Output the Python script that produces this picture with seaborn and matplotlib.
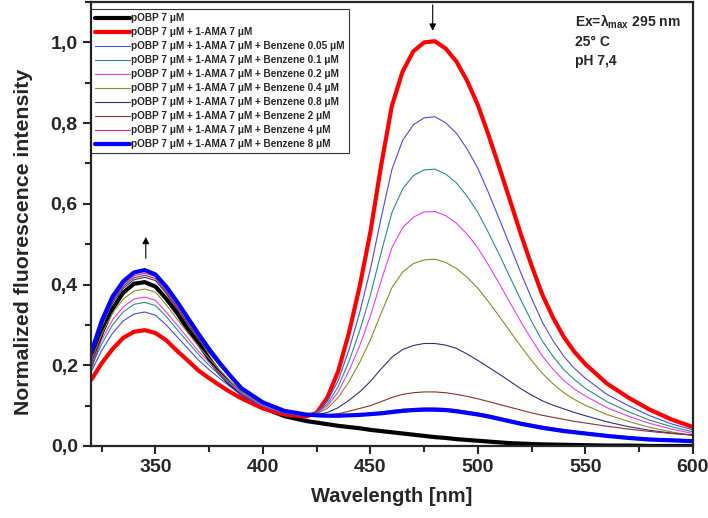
import matplotlib
matplotlib.use('Agg')
import matplotlib.pyplot as plt
from matplotlib.ticker import MultipleLocator, FuncFormatter
import seaborn as sns
import pandas as pd

# wavelength grid (nm)
wl = [320, 325, 330, 335, 340, 345, 350, 355, 360, 365, 370, 375, 380, 385, 390, 400, 410, 420,
      425, 430, 435, 440, 445, 450, 455, 460, 465, 470, 475, 480, 485, 490, 495, 500,
      505, 510, 515, 520, 525, 530, 535, 540, 545, 550, 560, 570, 580, 590, 600]

pobp = [0.200, 0.280, 0.340, 0.380, 0.402, 0.406, 0.395, 0.365, 0.330, 0.290, 0.255, 0.216, 0.180, 0.153, 0.130, 0.095, 0.074, 0.062,
        0.058, 0.054, 0.050, 0.047, 0.044, 0.040, 0.037, 0.034, 0.031, 0.028, 0.025, 0.022, 0.020, 0.017, 0.015, 0.013,
        0.011, 0.009, 0.007, 0.006, 0.005, 0.004, 0.0035, 0.003, 0.0025, 0.002, 0.001, 0.001, 0.000, 0.000, 0.000]
ama = [0.163, 0.205, 0.240, 0.268, 0.283, 0.287, 0.280, 0.262, 0.236, 0.212, 0.187, 0.168, 0.150, 0.133, 0.118, 0.093, 0.078, 0.073,
       0.082, 0.120, 0.185, 0.280, 0.395, 0.530, 0.695, 0.843, 0.928, 0.978, 1.000, 1.003, 0.985, 0.953, 0.905, 0.845,
       0.770, 0.690, 0.608, 0.525, 0.447, 0.375, 0.318, 0.270, 0.233, 0.203, 0.155, 0.120, 0.090, 0.066, 0.047]
bz_005 = [0.183, 0.237, 0.279, 0.310, 0.327, 0.332, 0.324, 0.300, 0.271, 0.242, 0.213, 0.189, 0.167, 0.146, 0.126, 0.098, 0.081, 0.074,
          0.083, 0.111, 0.162, 0.238, 0.330, 0.438, 0.565, 0.685, 0.757, 0.796, 0.813, 0.816, 0.801, 0.775, 0.736, 0.688,
          0.627, 0.562, 0.496, 0.429, 0.366, 0.307, 0.261, 0.222, 0.192, 0.168, 0.128, 0.100, 0.075, 0.055, 0.040]
bz_01 = [0.194, 0.253, 0.300, 0.332, 0.351, 0.356, 0.348, 0.321, 0.289, 0.258, 0.227, 0.200, 0.175, 0.152, 0.130, 0.100, 0.082, 0.075,
         0.082, 0.104, 0.147, 0.209, 0.285, 0.374, 0.479, 0.578, 0.637, 0.670, 0.684, 0.686, 0.674, 0.652, 0.619, 0.579,
         0.528, 0.474, 0.418, 0.362, 0.309, 0.260, 0.222, 0.189, 0.164, 0.143, 0.110, 0.085, 0.064, 0.048, 0.035]
bz_02 = [0.200, 0.263, 0.312, 0.345, 0.364, 0.369, 0.361, 0.332, 0.300, 0.268, 0.235, 0.207, 0.180, 0.155, 0.132, 0.101, 0.083, 0.076,
         0.081, 0.099, 0.134, 0.186, 0.248, 0.322, 0.409, 0.491, 0.541, 0.567, 0.580, 0.581, 0.571, 0.552, 0.525, 0.491,
         0.448, 0.402, 0.355, 0.308, 0.264, 0.223, 0.190, 0.162, 0.141, 0.124, 0.095, 0.074, 0.056, 0.042, 0.031]
bz_04 = [0.209, 0.277, 0.329, 0.364, 0.384, 0.389, 0.381, 0.350, 0.315, 0.281, 0.247, 0.217, 0.188, 0.160, 0.135, 0.103, 0.084, 0.076,
         0.080, 0.093, 0.120, 0.159, 0.207, 0.263, 0.329, 0.392, 0.431, 0.452, 0.461, 0.463, 0.455, 0.440, 0.418, 0.391,
         0.357, 0.321, 0.284, 0.247, 0.212, 0.180, 0.154, 0.132, 0.115, 0.101, 0.078, 0.061, 0.046, 0.035, 0.026]
bz_08 = [0.222, 0.297, 0.354, 0.391, 0.412, 0.418, 0.410, 0.378, 0.340, 0.302, 0.264, 0.230, 0.198, 0.168, 0.140, 0.106, 0.086, 0.077,
         0.078, 0.083, 0.095, 0.113, 0.134, 0.160, 0.191, 0.220, 0.239, 0.249, 0.254, 0.254, 0.250, 0.242, 0.228, 0.212,
         0.195, 0.178, 0.160, 0.142, 0.126, 0.112, 0.101, 0.092, 0.083, 0.075, 0.060, 0.048, 0.039, 0.032, 0.027]
bz_2 = [0.224, 0.301, 0.359, 0.396, 0.417, 0.423, 0.415, 0.382, 0.344, 0.305, 0.267, 0.233, 0.200, 0.170, 0.141, 0.107, 0.086, 0.078,
        0.077, 0.077, 0.080, 0.086, 0.093, 0.100, 0.110, 0.120, 0.128, 0.132, 0.134, 0.134, 0.132, 0.128, 0.123, 0.117,
        0.110, 0.103, 0.096, 0.089, 0.082, 0.076, 0.071, 0.066, 0.061, 0.057, 0.049, 0.042, 0.036, 0.031, 0.027]
bz_4 = [0.226, 0.304, 0.363, 0.400, 0.422, 0.428, 0.420, 0.386, 0.348, 0.309, 0.270, 0.236, 0.202, 0.171, 0.142, 0.107, 0.087, 0.078,
        0.076, 0.076, 0.076, 0.077, 0.079, 0.081, 0.084, 0.088, 0.091, 0.093, 0.094, 0.094, 0.093, 0.090, 0.086, 0.082,
        0.077, 0.071, 0.065, 0.059, 0.054, 0.049, 0.045, 0.041, 0.037, 0.034, 0.028, 0.023, 0.019, 0.017, 0.015]
bz_8 = [0.230, 0.310, 0.370, 0.408, 0.430, 0.436, 0.425, 0.395, 0.358, 0.318, 0.278, 0.240, 0.205, 0.173, 0.143, 0.108, 0.087, 0.078,
        0.076, 0.075, 0.075, 0.076, 0.077, 0.079, 0.081, 0.084, 0.087, 0.089, 0.090, 0.090, 0.089, 0.086, 0.082, 0.078,
        0.073, 0.067, 0.061, 0.055, 0.050, 0.045, 0.041, 0.037, 0.034, 0.031, 0.025, 0.020, 0.016, 0.014, 0.012]

labels = ['pOBP 7 μM',
          'pOBP 7 μM + 1-AMA 7 μM',
          'pOBP 7 μM + 1-AMA 7 μM + Benzene 0.05 μM',
          'pOBP 7 μM + 1-AMA 7 μM + Benzene 0.1 μM',
          'pOBP 7 μM + 1-AMA 7 μM + Benzene 0.2 μM',
          'pOBP 7 μM + 1-AMA 7 μM + Benzene 0.4 μM',
          'pOBP 7 μM + 1-AMA 7 μM + Benzene 0.8 μM',
          'pOBP 7 μM + 1-AMA 7 μM + Benzene 2 μM',
          'pOBP 7 μM + 1-AMA 7 μM + Benzene 4 μM',
          'pOBP 7 μM + 1-AMA 7 μM + Benzene 8 μM']
series = [pobp, ama, bz_005, bz_01, bz_02, bz_04, bz_08, bz_2, bz_4, bz_8]
colors = ['#000000', '#ff0000', '#4a4ad8', '#2a8a8a', '#e83ee8', '#8a8a2a',
          '#30307a', '#8a3030', '#c02890', '#0000ff']
widths = [3, 3, 0.8, 0.8, 0.8, 0.8, 0.8, 0.8, 0.8, 3]

sns.set_style('ticks')
plt.rcParams['font.family'] = ['Liberation Sans', 'DejaVu Sans']
plt.rcParams['font.weight'] = 'bold'
plt.rcParams['mathtext.fontset'] = 'custom'
plt.rcParams['mathtext.rm'] = 'Liberation Sans'

fig = plt.figure(figsize=(7.08, 5.18), dpi=100)
ax = fig.add_axes([0.1285, 0.139, 0.850, 0.857])

for vals, lab, c, w in zip(series, labels, colors, widths):
    df = pd.DataFrame({'wl': wl, 'v': vals})
    sns.lineplot(data=df, x='wl', y='v', color=c, lw=w, label=lab, ax=ax,
                 solid_joinstyle='round', solid_capstyle='round')

ax.set_xlim(320, 600)
ax.set_ylim(0, 1.1)
ax.xaxis.set_major_locator(MultipleLocator(50))
ax.xaxis.set_minor_locator(MultipleLocator(25))
ax.yaxis.set_major_locator(MultipleLocator(0.2))
ax.yaxis.set_minor_locator(MultipleLocator(0.1))
ax.yaxis.set_major_formatter(FuncFormatter(lambda v, p: f'{v:.1f}'.replace('.', ',')))
ax.tick_params(which='major', length=6, width=1.5, labelsize=14)
ax.tick_params(which='minor', length=4, width=1.5)
for sp in ax.spines.values():
    sp.set_linewidth(1.6)

ax.set_xlabel('Wavelength [nm]', fontsize=14.5, fontweight='bold', labelpad=8)
ax.set_ylabel('Normalized fluorescence intensity', fontsize=15.3, fontweight='bold')
ax.yaxis.set_label_coords(-0.097, 0.46)

leg = ax.legend(loc='upper left', bbox_to_anchor=(0.0, 0.984), borderaxespad=0,
                fontsize=7.2, frameon=True, fancybox=False, edgecolor='black',
                handlelength=3.5, handletextpad=0.15, labelspacing=0.4, borderpad=0.4)
leg.get_frame().set_linewidth(0.8)
for t in leg.get_texts():
    t.set_fontweight('bold')

ax.text(0.805, 0.955, r'Ex=λ$_{\mathrm{max}}$ 295 nm', transform=ax.transAxes,
        fontsize=10, fontweight='bold', va='center')
ax.text(0.805, 0.91, '25° C', transform=ax.transAxes, fontsize=10, fontweight='bold', va='center')
ax.text(0.805, 0.868, 'pH 7,4', transform=ax.transAxes, fontsize=10, fontweight='bold', va='center')

ax.annotate('', xy=(479, 1.022), xytext=(479, 1.1),
            arrowprops=dict(arrowstyle='-|>', color='black', lw=0.8, mutation_scale=10))
ax.annotate('', xy=(345.5, 0.525), xytext=(345.5, 0.458),
            arrowprops=dict(arrowstyle='-|>', color='black', lw=0.8, mutation_scale=10))

fig.savefig('out.png', dpi=100)
